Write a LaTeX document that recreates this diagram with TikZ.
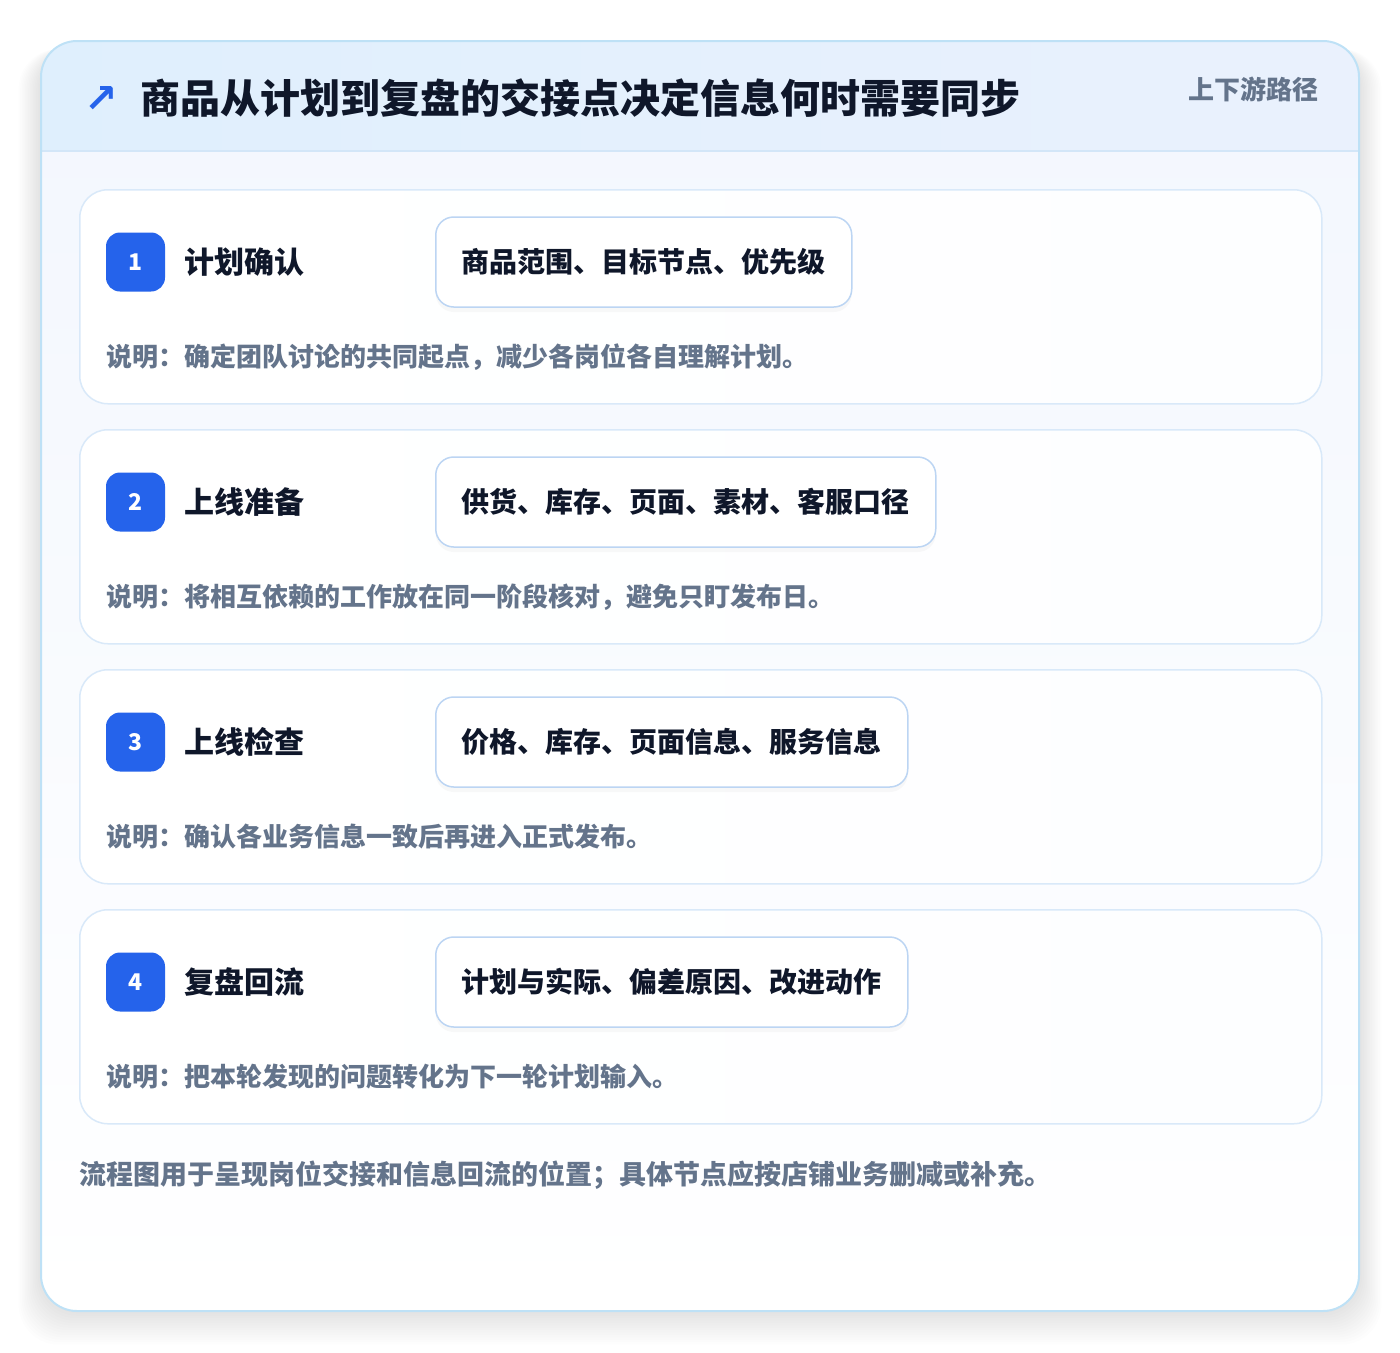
\documentclass[tikz,border=0pt]{standalone}
\usepackage{fontspec}
\setmainfont{Noto Sans CJK SC}
\newfontfamily\symfont{DejaVu Sans}
\usetikzlibrary{positioning,shadows}

\definecolor{outerline}{HTML}{BEE1F6}
\definecolor{headleft}{HTML}{DFEFFD}
\definecolor{headright}{HTML}{EAF1FD}
\definecolor{headline}{HTML}{D3E6F8}
\definecolor{cardline}{HTML}{D9E9F9}
\definecolor{pillline}{HTML}{BCD5F3}
\definecolor{badgeblue}{HTML}{2563EB}
\definecolor{inkdark}{HTML}{0F172A}
\definecolor{notegray}{HTML}{64748B}

\tikzset{
  stepcard/.style={draw=cardline, line width=1.5pt, rounded corners=28pt,
    left color=white, right color=white!94!headleft,
    minimum width=1242pt, minimum height=214pt, anchor=north west, inner sep=0pt},
  badge/.style={fill=badgeblue, rounded corners=14pt, minimum size=59pt, inner sep=0pt,
    text=white, font=\bfseries\fontsize{23}{23}\selectfont},
  steptitle/.style={anchor=west, inner sep=0pt, text=inkdark,
    font=\bfseries\fontsize{30}{30}\selectfont},
  pill/.style={draw=pillline, line width=1.5pt, rounded corners=18pt, fill=white,
    minimum height=90pt, inner xsep=26pt, anchor=west, text=inkdark,
    font=\bfseries\fontsize{28}{28}\selectfont,
    drop shadow={opacity=0.05, shadow xshift=0pt, shadow yshift=-5pt}},
  note/.style={anchor=west, inner sep=0pt, text=notegray,
    font=\bfseries\fontsize{26}{26}\selectfont}
}

\begin{document}
\begin{tikzpicture}[x=1pt,y=-1pt]
\useasboundingbox (0,0) rectangle (1400,1352);
  % soft shadow under the panel
  \foreach \k in {1,...,14}
    \fill[black, opacity=0.008, rounded corners=40pt]
      (41-1.6*\k,41+8) rectangle (1359+1.6*\k,1311+2.4*\k);
  % panel body
  \fill[top color=headright!60!white, bottom color=white, rounded corners=36pt]
    (41,41) rectangle (1359,1311);
  % header band
  \begin{scope}
    \clip[rounded corners=36pt] (41,41) rectangle (1359,1311);
    \fill[left color=headleft, right color=headright] (41,41) rectangle (1359,151);
    \draw[headline, line width=1.5pt] (41,151) -- (1359,151);
  \end{scope}
  \draw[outerline, line width=2pt, rounded corners=36pt] (41,41) rectangle (1359,1311);
  % header texts
  \node[text=badgeblue, font=\symfont\bfseries\fontsize{40}{40}\selectfont, inner sep=0pt]
    (arrow) at (101,99) {↗};
  \node[anchor=west, inner sep=0pt, text=inkdark, font=\bfseries\fontsize{40}{40}\selectfont]
    (title) at (140,98) {商品从计划到复盘的交接点决定信息何时需要同步};
  \node[anchor=east, inner sep=0pt, text=notegray, font=\bfseries\fontsize{26}{26}\selectfont]
    (tag) at (1319,89) {上下游路径};
  % steps
  \foreach \i/\name/\items/\txt in {
    1/计划确认/商品范围、目标节点、优先级/确定团队讨论的共同起点，减少各岗位各自理解计划。,
    2/上线准备/供货、库存、页面、素材、客服口径/将相互依赖的工作放在同一阶段核对，避免只盯发布日。,
    3/上线检查/价格、库存、页面信息、服务信息/确认各业务信息一致后再进入正式发布。,
    4/复盘回流/计划与实际、偏差原因、改进动作/把本轮发现的问题转化为下一轮计划输入。}
  {
    \pgfmathsetmacro{\top}{189+240*(\i-1)}
    \node[stepcard] (card\i) at (79,\top) {};
    \node[badge] (badge\i) at (135.5,\top+73) {\i};
    \node[steptitle, right=19pt of badge\i] (name\i) {\name};
    \node[pill] (pill\i) at (435,\top+73) {\items};
    \node[note] (note\i) at (106,\top+168) {说明：\txt};
  }
  % footer remark
  \node[note, font=\bfseries\fontsize{27}{27}\selectfont] (remark) at (79,1175)
    {流程图用于呈现岗位交接和信息回流的位置；具体节点应按店铺业务删减或补充。};
\end{tikzpicture}
\end{document}
